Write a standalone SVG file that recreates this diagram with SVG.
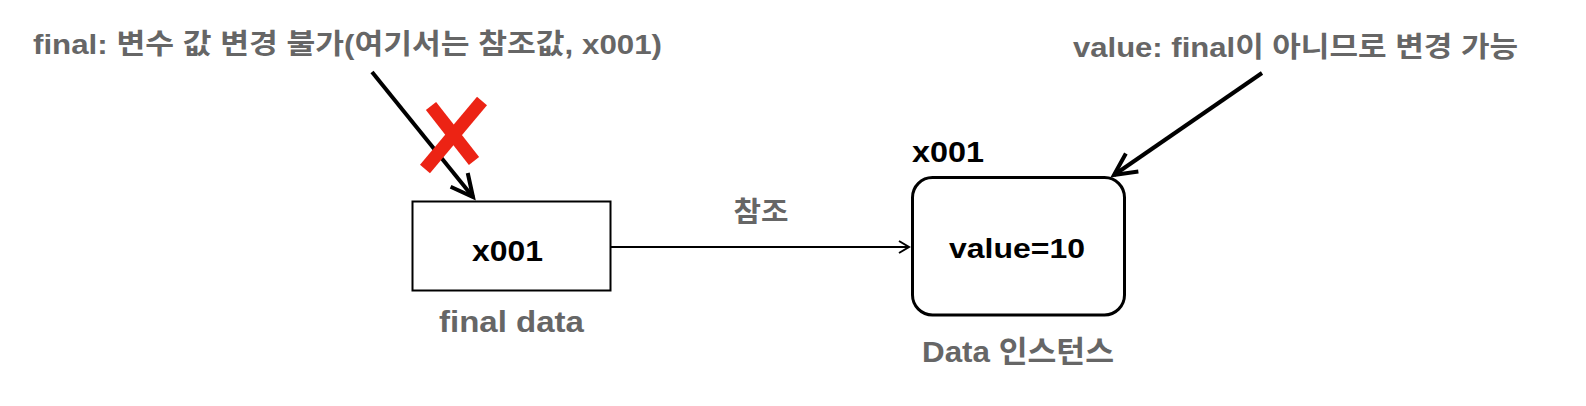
<svg xmlns="http://www.w3.org/2000/svg" width="1586" height="406" viewBox="0 0 1586 406">
  <style>
    .lbl { font-family: "Liberation Sans", "Noto Sans CJK KR", Arial, sans-serif; font-weight: bold; }
    .gray { fill: #666666; }
    .dark { fill: #000000; }
    .thick { stroke: #000; stroke-width: 4; fill: none; }
    .thin { stroke: #000; stroke-width: 2; fill: none; }
  </style>
  <defs>
    <marker id="openThick" viewBox="-28 -16 34 32" refX="0" refY="0" markerWidth="34" markerHeight="32" markerUnits="userSpaceOnUse" orient="auto">
      <path d="M-22,-11 L0,0 L-22,11" fill="none" stroke="#000" stroke-width="4" stroke-linejoin="miter"/>
    </marker>
    <marker id="openThin" viewBox="-14 -9 18 18" refX="0" refY="0" markerWidth="18" markerHeight="18" markerUnits="userSpaceOnUse" orient="auto">
      <path d="M-10,-6 L0,0 L-10,6" fill="none" stroke="#000" stroke-width="2"/>
    </marker>
  </defs>
  <rect width="1586" height="406" fill="#ffffff"/>

  <g id="note-final">
    <text class="lbl gray" x="33" y="54" font-size="28" textLength="629" lengthAdjust="spacingAndGlyphs">final: 변수 값 변경 불가(여기서는 참조값, x001)</text>
  </g>

  <g id="note-value">
    <text class="lbl gray" x="1073" y="57" font-size="28" textLength="445" lengthAdjust="spacingAndGlyphs">value: final이 아니므로 변경 가능</text>
  </g>

  <g id="connectors">
    <line class="thick" x1="372" y1="72" x2="473" y2="197" marker-end="url(#openThick)"/>
    <line class="thick" x1="1262" y1="73" x2="1114" y2="175" marker-end="url(#openThick)"/>
    <line class="thin" x1="611" y1="247" x2="909" y2="247" marker-end="url(#openThin)"/>
    <text class="lbl gray" x="761" y="222" font-size="28" text-anchor="middle" textLength="55" lengthAdjust="spacingAndGlyphs">참조</text>
  </g>

  <g id="final-data">
    <rect x="412.5" y="201.5" width="198" height="89" fill="#fff" stroke="#000" stroke-width="2"/>
    <text class="lbl dark" x="472" y="261" font-size="29" textLength="71" lengthAdjust="spacingAndGlyphs">x001</text>
    <text class="lbl gray" x="439" y="332" font-size="30" textLength="145" lengthAdjust="spacingAndGlyphs">final data</text>
  </g>

  <g id="cross">
    <line x1="431" y1="106" x2="474" y2="161" stroke="#ec2314" stroke-width="13"/>
    <line x1="482" y1="101" x2="425" y2="169" stroke="#ec2314" stroke-width="13"/>
  </g>

  <g id="data-instance">
    <text class="lbl dark" x="912" y="162" font-size="29" textLength="72" lengthAdjust="spacingAndGlyphs">x001</text>
    <rect x="912.5" y="177.5" width="212" height="137.5" rx="20" ry="20" fill="#fff" stroke="#000" stroke-width="3"/>
    <text class="lbl dark" x="949" y="258" font-size="28" textLength="136" lengthAdjust="spacingAndGlyphs">value=10</text>
    <text class="lbl gray" x="922" y="362" font-size="30" textLength="192" lengthAdjust="spacingAndGlyphs">Data 인스턴스</text>
  </g>
</svg>
